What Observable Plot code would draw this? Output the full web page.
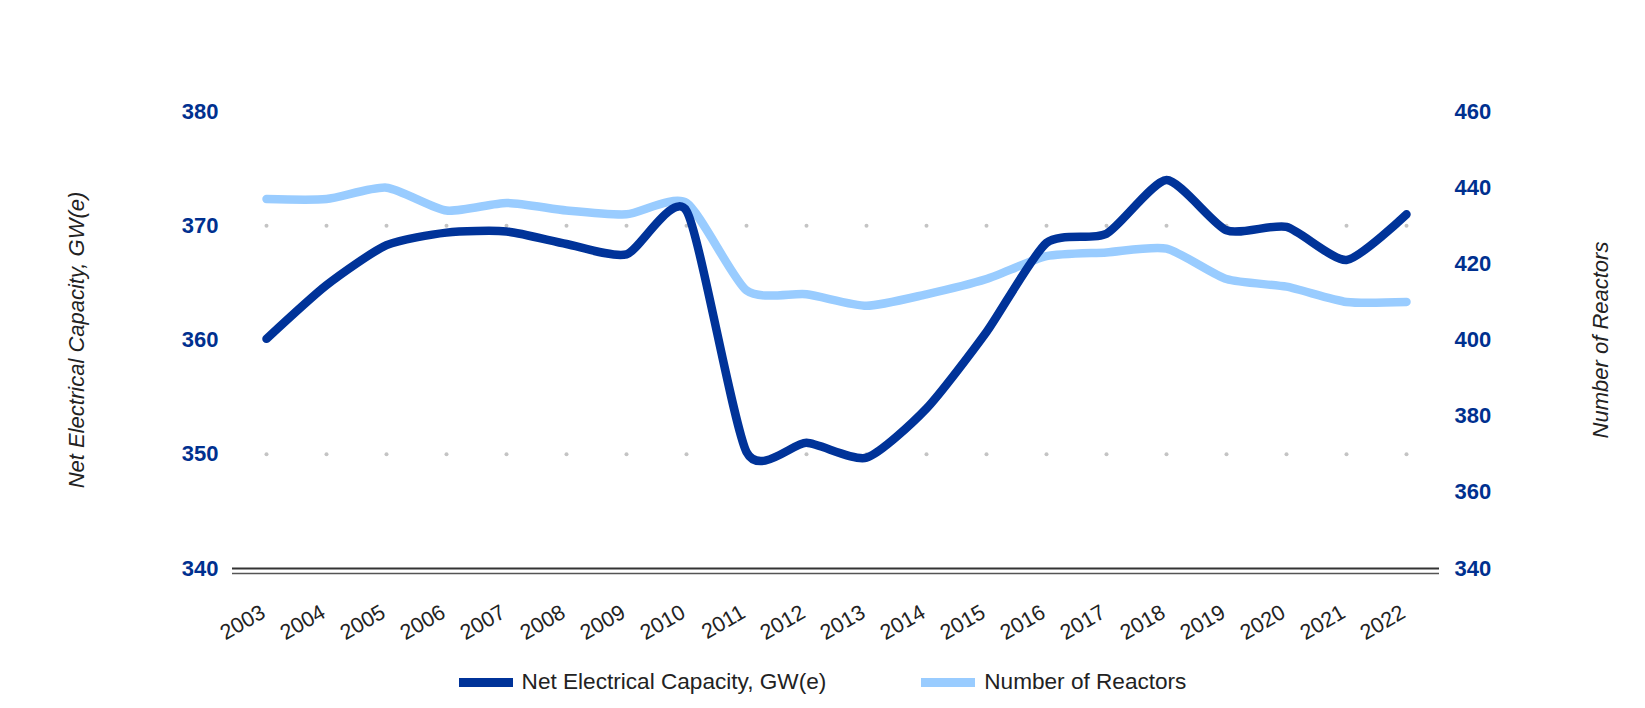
<!DOCTYPE html>
<html><head><meta charset="utf-8">
<script src="https://cdn.jsdelivr.net/npm/d3@7"></script>
<script src="https://cdn.jsdelivr.net/npm/@observablehq/plot@0.6"></script>
<style>
body{margin:0;background:#fff;font-family:"Liberation Sans",Arial,sans-serif;}
#legend{display:flex;justify-content:center;align-items:center;gap:95px;height:44px;font-size:22.6px;color:#222;}
.item{display:flex;align-items:center;gap:9px}
.sw{width:54px;height:9px;display:inline-block}
</style></head><body>
<div id="chart"></div>
<div id="legend"></div>
<script>
const years = [2003,2004,2005,2006,2007,2008,2009,2010,2011,2012,2013,2014,2015,2016,2017,2018,2019,2020,2021,2022];
const capacity = [360.1,364.8,368.3,369.4,369.5,368.4,367.5,371.3,350.2,351.0,349.7,354.0,360.7,368.5,369.3,374.0,369.6,369.9,367.0,371.0];
const reactors = [437,437,440,434,436,434,433,436,413,412,409,412,416,422,423,424,416,414,410,410];
const capTicks = [340,350,360,370,380];
const reactorTicks = [340,360,380,400,420,440,460];
const gridValues = [350,370];
const seriesNames = ["Net Electrical Capacity, GW(e)", "Number of Reactors"];
const colors = ["#003399","#99ccff"];
const capDomain = [340,380];
const reactorDomain = [340,460];

const toCap = r => capDomain[0] + (r - reactorDomain[0]) * (capDomain[1]-capDomain[0])/(reactorDomain[1]-reactorDomain[0]);
const fromCap = c => Math.round(reactorDomain[0] + (c - capDomain[0]) * (reactorDomain[1]-reactorDomain[0])/(capDomain[1]-capDomain[0]));

const rows = years.map((year,i)=>({year:String(year), capacity:capacity[i], reactors:reactors[i]}));
const grid = gridValues.flatMap(v => years.map(y => ({year:String(y), v})));
const font = '"Liberation Sans", Arial, sans-serif';
const H = 660;
const plot = Plot.plot({
  width:1645, height:H, marginTop:111, marginBottom:H-568, marginLeft:232, marginRight:206,
  style:{fontFamily:font, background:"#fff", overflow:"visible"},
  x:{type:"point", domain: years.map(String), padding:0.5},
  y:{domain:capDomain},
  marks:[
    Plot.dot(grid,{x:"year",y:"v",r:2,fill:"#c4c4c4"}),
    Plot.ruleY([340],{stroke:"#333",strokeWidth:2}),
    Plot.ruleY([340],{stroke:"#555",strokeWidth:1.5,dy:5}),
    Plot.axisX({tickSize:0,tickPadding:42,dx:-3,tickRotate:-30,fontSize:21.5,fill:"#222",label:null}),
    Plot.axisY(capTicks,{anchor:"left",tickSize:0,tickPadding:14,fontSize:22,fontWeight:"bold",fill:"#00308F",label:null}),
    Plot.axisY(reactorTicks.map(toCap),{anchor:"right",tickSize:0,tickPadding:15,tickFormat:fromCap,fontSize:22,fontWeight:"bold",fill:"#00308F",label:null}),
    Plot.text([seriesNames[0]],{text:d=>d,frameAnchor:"left",textAnchor:"middle",dx:-156,rotate:-90,fontStyle:"italic",fontSize:22,fill:"#222"}),
    Plot.text([seriesNames[1]],{text:d=>d,frameAnchor:"right",textAnchor:"middle",dx:161,rotate:-90,fontStyle:"italic",fontSize:22,fill:"#222"}),
    Plot.line(rows,{x:"year",y:d=>toCap(d.reactors),stroke:colors[1],strokeWidth:8.5,curve:"cardinal",tension:0.35}),
    Plot.line(rows,{x:"year",y:"capacity",stroke:colors[0],strokeWidth:8.5,curve:"cardinal",tension:0.35})
  ]
});
document.getElementById("chart").appendChild(plot);
const legend = document.getElementById("legend");
seriesNames.forEach((name,i)=>{
  const item = document.createElement("div");
  item.className = "item";
  const sw = document.createElement("span");
  sw.className = "sw";
  sw.style.background = colors[i];
  const label = document.createElement("span");
  label.textContent = name;
  item.appendChild(sw); item.appendChild(label);
  legend.appendChild(item);
});
</script>
</body></html>
